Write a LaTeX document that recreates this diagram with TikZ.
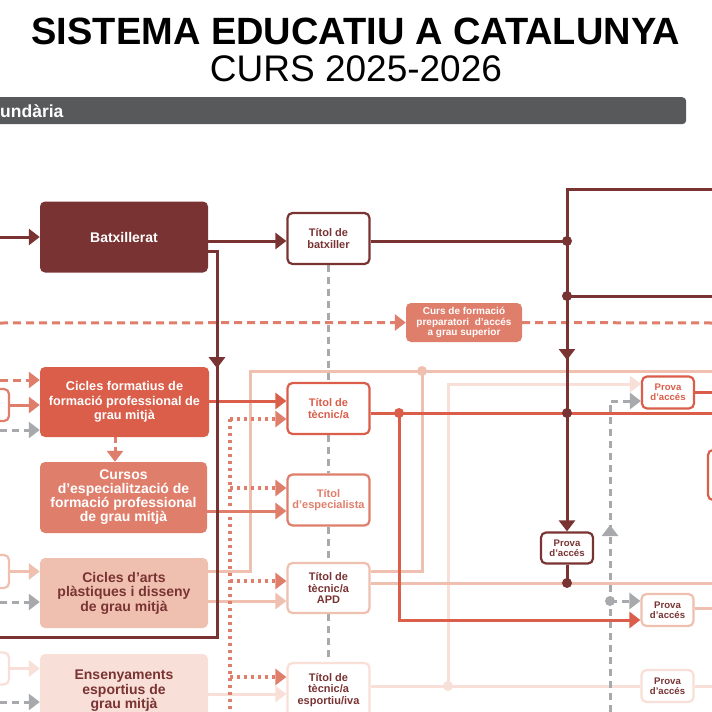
\documentclass[tikz,border=0pt]{standalone}
\usepackage{fontspec}
\setmainfont{Liberation Sans}
\usetikzlibrary{arrows.meta,decorations.markings}
\definecolor{dk}{HTML}{7A3333}
\definecolor{tom}{HTML}{DA5E4A}
\definecolor{sal}{HTML}{E07E6C}
\definecolor{lp}{HTML}{EFC0B0}
\definecolor{vl}{HTML}{F8DFD7}
\definecolor{gr}{HTML}{A7A9AC}
\definecolor{barc}{HTML}{58595B}
\pgfdeclarelayer{bg}
\pgfdeclarelayer{paper}
\pgfsetlayers{paper,bg,main}
\begin{document}
\begin{tikzpicture}[x=1pt,y=-1pt,
  bx/.style={rounded corners=5pt, align=center, inner sep=0pt},
  big/.style={bx, minimum width=168pt, minimum height=70pt, font=\bfseries\fontsize{14}{14.5}\selectfont},
  tb/.style={bx, draw, line width=2.2pt, fill=white, minimum width=82pt, minimum height=51pt, font=\bfseries\fontsize{11}{11.5}\selectfont},
  pv/.style={bx, draw, line width=2.2pt, fill=white, minimum width=52pt, minimum height=32pt, font=\bfseries\fontsize{9.6}{9.8}\selectfont},
  sbx/.style={draw, line width=2.2pt, rounded corners=5pt, minimum width=40pt, minimum height=32pt, inner sep=0pt, fill=white},
  ln/.style={line width=3pt},
  arr/.style={-{Triangle[length=11pt,width=16pt]}},
  dshd/.style={ln, dash pattern=on 8pt off 5pt},
  gdsh/.style={ln, gr, dash pattern=on 7pt off 5pt},
  dotl/.style={line width=3.2pt, sal, dash pattern=on 3pt off 4pt},
  jn/.style={circle, inner sep=0pt, minimum size=10pt},
  midarr/.style={postaction={decorate}, decoration={markings, mark=at position #1 with {\arrow{Triangle[length=11pt,width=16pt]}}}},
]
\useasboundingbox (0,0) rectangle (712,712);
\begin{pgfonlayer}{paper}
\fill[white] (0,0) rectangle (712,712);
\end{pgfonlayer}

% ---- title and bar
\node[anchor=base, inner sep=0pt, font=\bfseries\fontsize{38}{40}\selectfont] (title) at (356,44) {SISTEMA EDUCATIU A CATALUNYA};
\node[anchor=base, inner sep=0pt, font=\fontsize{37}{40}\selectfont] (year) at (356,81) {CURS 2025-2026};
\node[fill=barc, rounded corners=4pt, minimum width=696pt, minimum height=27pt, inner sep=0pt, anchor=north west] (bar) at (-10,97) {};
\node[anchor=base west, text=white, inner sep=0pt, font=\bfseries\fontsize{17.5}{17.5}\selectfont] (bartxt) at (0,117) {undària};

% ---- main boxes
\node[big, fill=dk, text=white, minimum height=71pt] (bat) at (124,237) {Batxillerat};
\node[tb, draw=dk, text=dk] (tbat) at (328.5,238.5) {Títol de\\batxiller};
\node[bx, fill=sal, text=white, minimum width=116pt, minimum height=39pt, font=\bfseries\fontsize{10}{10.3}\selectfont] (cprep) at (464,322.5) {Curs de formació\\preparatori\ \ d’accés\\a grau superior};
\node[big, fill=tom, text=white, minimum width=169pt, font=\bfseries\fontsize{12.7}{14.5}\selectfont] (cfp) at (124.5,402) {Cicles formatius de\\formació professional de\\grau mitjà};
\node[big, fill=sal, text=white, minimum width=167pt, minimum height=71pt, font=\bfseries\fontsize{14}{14}\selectfont] (cesp) at (123.5,497.5) {Cursos\\d’especialització de\\formació professional\\de grau mitjà};
\node[tb, draw=tom, text=tom] (ttec) at (328.5,408.5) {Títol de\\tècnic/a};
\node[tb, draw=sal, text=sal] (tesp) at (328.5,500) {Títol\\d’especialista};
\node[big, fill=lp, text=dk] (carts) at (124,593) {Cicles d’arts\\plàstiques i disseny\\de grau mitjà};
\node[tb, draw=lp, text=dk, minimum height=50pt] (tapd) at (328.5,588) {Títol de\\tècnic/a\\APD};
\node[big, fill=vl, text=dk, minimum height=74pt] (ens) at (124,691) {Ensenyaments\\esportius de\\grau mitjà};
\node[tb, draw=vl, text=dk, minimum height=54pt] (tesport) at (328.5,690) {Títol de\\tècnic/a\\esportiu/iva};

\node[pv, draw=tom, text=tom] (p1) at (668,392.5) {Prova\\d’accés};
\node[pv, draw=dk, text=dk, minimum height=31pt] (p2) at (567,548) {Prova\\d’accés};
\node[pv, draw=lp, text=dk] (p3) at (667.5,610) {Prova\\d’accés};
\node[pv, draw=vl, text=dk] (p4) at (667.5,686) {Prova\\d’accés};

\node[sbx, draw=sal] (sb1) at (-11,405) {};
\node[sbx, draw=lp, minimum height=33pt] (sb2) at (-11,571.5) {};
\node[sbx, draw=vl] (sb3) at (-11,668.5) {};
\node[sbx, draw=tom, minimum width=60pt, minimum height=50pt] (rb) at (738,475) {};

% ---- coordinates
\coordinate (lBat) at (0,237);
\coordinate (lPrep) at (0,323);
\coordinate (lCfpA) at (0,380);
\coordinate (lCfpG) at (0,430);
\coordinate (lArtsG) at (0,602);
\coordinate (lEnsG) at (0,702);
\coordinate (lDk) at (0,637);
\coordinate (rTop) at (712,189);
\coordinate (rBat) at (712,296);
\coordinate (rPrep) at (712,323);
\coordinate (rLp) at (712,371);
\coordinate (rTom) at (712,413);
\coordinate (rApd) at (712,583);
\coordinate (bDot) at (230,712);
\coordinate (bGr) at (610,712);
\coordinate (cDk1) at (217,251);
\coordinate (cDk2) at (217,637);
\coordinate (cLp1) at (250,571);
\coordinate (cLp2) at (250,371);
\coordinate (cLp3) at (422,571);
\coordinate (cTom) at (399,620);
\coordinate (cVl) at (448,384);
\coordinate (cGr) at (610,401);
\coordinate (cDkTop) at (567,189);
\coordinate (d1) at (230,419);
\coordinate (d2) at (230,488);
\coordinate (d3) at (230,581);
\coordinate (d4) at (230,677);

% ---- junction dots
\node[jn, fill=dk] (jB) at (567,241) {};
\node[jn, fill=dk] (jB2) at (567,296) {};
\node[jn, fill=dk] (jT3) at (567,413) {};
\node[jn, fill=dk] (jA) at (567,583) {};
\node[jn, fill=tom] (jTom) at (399,413) {};
\node[jn, fill=lp] (jLp) at (422,371) {};
\node[jn, fill=vl] (jVl) at (448,686) {};
\node[jn, fill=gr] (jGr) at (610,601) {};

\begin{pgfonlayer}{bg}
% very light
\draw[ln,vl,arr] (sb3.east) -- (sb3.east -| ens.west);
\draw[ln,vl,arr] (ens.east |- 0,694) -- (tesport.west |- 0,694);
\draw[ln,vl] (tesport.east |- p4.west) -- (p4.west);
\draw[ln,vl] (p4.east) -- (p4.east -| rApd);
\draw[ln,vl,arr] (jVl.center) -- (cVl) -- (p1.west |- cVl);
% light pink
\draw[ln,lp,arr] (sb2.east) -- (sb2.east -| carts.west);
\draw[ln,lp] (carts.east |- cLp1) -- (cLp1) -- (cLp2) -- (rLp);
\draw[ln,lp,arr] (carts.east |- 0,601) -- (tapd.west |- 0,601);
\draw[ln,lp] (tapd.east |- cLp3) -- (cLp3) -- (jLp.center);
\draw[ln,lp] (tapd.east |- rApd) -- (rApd);
\draw[ln,lp] (p3.east |- 0,608) -- (712,608);
% grey dashed
\draw[gdsh,arr] (lCfpG) -- (lCfpG -| cfp.west);
\draw[gdsh,arr] (lArtsG) -- (lArtsG -| carts.west);
\draw[gdsh,arr] (lEnsG) -- (lEnsG -| ens.west);
\draw[gdsh] (tbat.south) -- (ttec.north);
\draw[gdsh] (ttec.south) -- (tesp.north);
\draw[gdsh] (tesp.south) -- (tapd.north);
\draw[gdsh] (tapd.south) -- (tesport.north);
\draw[gdsh,arr,midarr=187pt] (bGr) -- (cGr) -- (p1.west |- cGr);
\draw[gdsh,arr] (jGr.center) -- (p3.west |- jGr);
% salmon
\draw[dshd,sal,arr] (lPrep) -- (cprep.west);
\draw[dshd,sal] (cprep.east) -- (rPrep);
\draw[dshd,sal,arr] (lCfpA) -- (lCfpA -| cfp.west);
\draw[ln,sal,arr] (sb1.east) -- (sb1.east -| cfp.west);
\draw[ln,sal,arr] (cesp.east |- 0,511) -- (tesp.west |- 0,511);
\draw[ln,sal,dash pattern=on 6pt off 4pt,arr] (cfp.south -| 115,0) -- (cesp.north -| 115,0);
% dotted
\draw[dotl] (d1) -- (bDot);
\draw[dotl,arr] (d1) -- (d1 -| ttec.west);
\draw[dotl,arr] (d2) -- (d2 -| tesp.west);
\draw[dotl,arr] (d3) -- (d3 -| tapd.west);
\draw[dotl,arr] (d4) -- (d4 -| tesport.west);
% tomato
\draw[ln,tom,arr] (cfp.east |- 0,401) -- (ttec.west |- 0,401);
\draw[ln,tom] (ttec.east |- rTom) -- (rTom);
\draw[ln,tom,arr] (jTom.center) -- (cTom) -- (p3.west |- cTom);
\draw[ln,tom] (p1.east) -- (p1.east -| rTom);
% dark red
\draw[ln,dk,arr] (lBat) -- (lBat -| bat.west);
\draw[ln,dk,arr] (bat.east |- 0,241) -- (tbat.west |- 0,241);
\draw[ln,dk,midarr=126pt] (bat.east |- cDk1) -- (cDk1) -- (cDk2) -- (lDk);
\draw[ln,dk] (tbat.east |- jB) -- (jB.center);
\draw[ln,dk,arr,midarr=316pt] (rTop) -- (cDkTop) -- (p2.north);
\draw[ln,dk] (jB2.center) -- (rBat);
\draw[ln,dk] (p2.south) -- (jA.center);
\end{pgfonlayer}
\end{tikzpicture}
\end{document}
